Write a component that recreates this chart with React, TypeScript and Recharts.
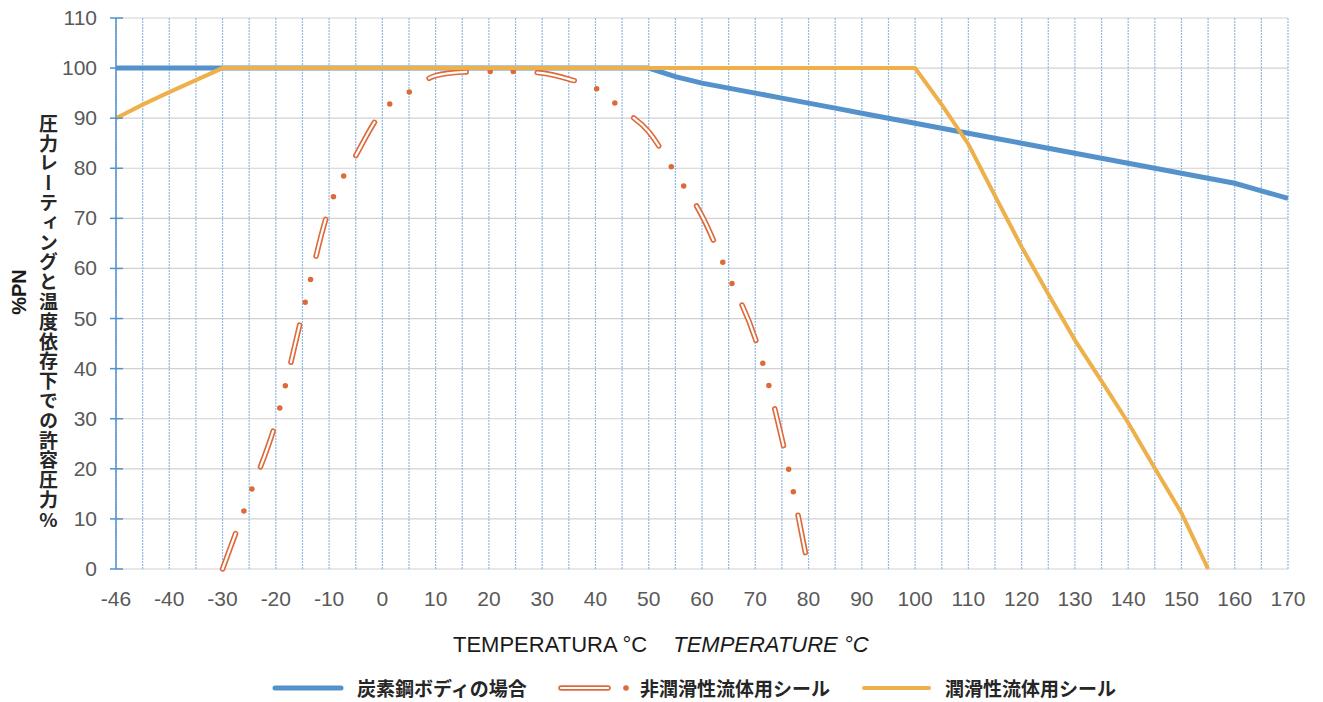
import React from "react";
import { LineChart, Line, XAxis, YAxis, CartesianGrid } from "recharts";

// temperature categories (°C), spaced evenly like the original sheet
const temps = [
  -46, -45, -40, -35, -30, -25, -20, -15, -10, -5, 0, 5, 10, 15, 20, 25, 30, 35, 40, 45, 50,
  55, 60, 65, 70, 75, 80, 85, 90, 95, 100, 105, 110, 115, 120, 125, 130, 135, 140, 145, 150,
  155, 160, 165, 170,
];

// %PN per temperature
const carbonSteel = [
  100, 100, 100, 100, 100, 100, 100, 100, 100, 100, 100, 100, 100, 100, 100, 100, 100, 100, 100, 100, 100,
  98.3, 97, 96, 95, 94, 93, 92, 91, 90, 89, 88, 87, 86, 85, 84, 83, 82, 81, 80, 79,
  78, 77, 75.5, 74,
];
const nonLubricated = [
  null, null, null, null, 0, 14.5, 29.3, 51, 72, 82.5, 91.4, 95.2, 98.5, 99.2, 99.3, 99.3, 99, 97.8, 96, 91.8, 87.3,
  79, 70.5, 58.5, 46, 26, 0, null, null, null, null, null, null, null, null, null, null, null, null, null, null,
  null, null, null, null,
];
const lubricated = [
  90, 92.7, 95.2, 97.6, 100, 100, 100, 100, 100, 100, 100, 100, 100, 100, 100, 100, 100, 100, 100, 100, 100,
  100, 100, 100, 100, 100, 100, 100, 100, 100, 100, 92.7, 84.8, 74.5, 64.3, 54.9, 45.7, 37.5, 29.2, 20.1, 11.2,
  0, null, null, null,
];

const yTicks = [0, 10, 20, 30, 40, 50, 60, 70, 80, 90, 100, 110];
const xLabelled = [-46, -40, -30, -20, -10, 0, 10, 20, 30, 40, 50, 60, 70, 80, 90, 100, 110, 120, 130, 140, 150, 160, 170];

const NAME_CARBON = "炭素鋼ボディの場合";
const NAME_DRY = "非潤滑性流体用シール";
const NAME_LUB = "潤滑性流体用シール";

const BLUE = "#5592CB";
const RUST = "#DD6A3B";
const GOLD = "#EDB04B";
const TICK_COLOR = "#595959";
const LATIN = "'Liberation Sans', Arial, sans-serif";
const CJK = "'Noto Sans CJK JP', sans-serif";

const data = temps.map((t, i) => ({
  t: String(t),
  carbon: carbonSteel[i],
  dry: nonLubricated[i],
  lub: lubricated[i],
}));

function XTick(props: any) {
  const { x, y, payload } = props;
  if (!xLabelled.includes(Number(payload.value))) return <g />;
  return (
    <text x={x} y={y} dy={37} textAnchor="middle" fill={TICK_COLOR} fontSize={21} fontFamily={LATIN}>
      {payload.value}
    </text>
  );
}

function YTick(props: any) {
  const { x, y, payload } = props;
  return (
    <g>
      <line x1={x - 6} x2={x + 7} y1={y} y2={y} stroke={BLUE} strokeWidth={1.5} />
      <text x={x - 19} y={y} dy={7} textAnchor="end" fill={TICK_COLOR} fontSize={21} fontFamily={LATIN}>
        {payload.value}
      </text>
    </g>
  );
}

const legendText: React.CSSProperties = {
  position: "absolute",
  top: 677,
  fontFamily: CJK,
  fontSize: 19,
  lineHeight: "22px",
  fontWeight: 700,
  color: "#262626",
  whiteSpace: "nowrap",
};

export default function App() {
  return (
    <div style={{ position: "absolute", left: 0, top: 0, width: 1323, height: 702, background: "#fff" }}>
      <LineChart width={1323} height={702} data={data} margin={{ top: 18, right: 35, left: 0, bottom: 93 }}>
        <CartesianGrid vertical={false} stroke="#d4d0d0" strokeWidth={1.2} />
        <CartesianGrid horizontal={false} stroke="#8fbae3" strokeWidth={1.2} strokeDasharray="2 1" />
        <XAxis
          dataKey="t"
          type="category"
          interval={0}
          height={40}
          axisLine={false}
          tickLine={false}
          tickSize={0}
          tickMargin={0}
          tick={(p: any) => <XTick {...p} />}
        />
        <YAxis
          type="number"
          domain={[0, 110]}
          ticks={yTicks}
          width={116}
          axisLine={{ stroke: BLUE, strokeWidth: 1.5 }}
          tickLine={false}
          tickSize={0}
          tickMargin={0}
          tick={(p: any) => <YTick {...p} />}
        />
        <Line
          name={NAME_CARBON}
          dataKey="carbon"
          type="linear"
          stroke={BLUE}
          strokeWidth={5}
          dot={false}
          activeDot={false}
          isAnimationActive={false}
        />
        <Line
          name={NAME_DRY}
          dataKey="dry"
          type="monotone"
          stroke={RUST}
          strokeWidth={5.5}
          strokeLinecap="round"
          strokeDasharray="38 24 0 23 0 24"
          dot={false}
          activeDot={false}
          isAnimationActive={false}
        />
        <Line
          name={NAME_DRY + " inner"}
          dataKey="dry"
          type="monotone"
          stroke="#ffffff"
          strokeWidth={2.2}
          strokeLinecap="round"
          strokeDasharray="38 71"
          dot={false}
          activeDot={false}
          legendType="none"
          isAnimationActive={false}
        />
        <Line
          name={NAME_LUB}
          dataKey="lub"
          type="linear"
          stroke={GOLD}
          strokeWidth={4}
          dot={false}
          activeDot={false}
          isAnimationActive={false}
        />
      </LineChart>

      {/* y axis titles */}
      <div
        style={{
          position: "absolute",
          left: 19,
          top: 292,
          transform: "translate(-50%, -50%) rotate(-90deg)",
          fontFamily: LATIN,
          fontWeight: 700,
          fontSize: 20,
          color: "#1a1a1a",
          whiteSpace: "nowrap",
        }}
      >
        %PN
      </div>
      <div
        style={{
          position: "absolute",
          left: 38,
          top: 114,
          writingMode: "vertical-rl",
          textOrientation: "upright",
          fontFamily: CJK,
          fontWeight: 700,
          fontSize: 19,
          lineHeight: "20px",
          letterSpacing: 0.8,
          color: "#262626",
        }}
      >
        圧力レーティングと温度依存下での許容圧力%
      </div>

      {/* x axis title */}
      <div
        style={{
          position: "absolute",
          left: 453,
          top: 634,
          fontFamily: LATIN,
          fontSize: 22,
          lineHeight: "22px",
          color: "#1a1a1a",
          whiteSpace: "nowrap",
        }}
      >
        TEMPERATURA °C
        <span style={{ fontStyle: "italic", marginLeft: 26 }}>TEMPERATURE °C</span>
      </div>

      {/* legend */}
      <svg style={{ position: "absolute", left: 0, top: 676 }} width={1323} height={24}>
        <line x1={275} x2={341} y1={12} y2={12} stroke={BLUE} strokeWidth={5} strokeLinecap="round" />
        <line x1={561} x2={608} y1={12} y2={12} stroke={RUST} strokeWidth={5.5} strokeLinecap="round" />
        <line x1={561} x2={608} y1={12} y2={12} stroke="#fff" strokeWidth={2.2} strokeLinecap="round" />
        <circle cx={626} cy={12} r={2.8} fill={RUST} />
        <line x1={864} x2={929} y1={12} y2={12} stroke={GOLD} strokeWidth={4} strokeLinecap="round" />
      </svg>
      <div style={{ ...legendText, left: 357 }}>{NAME_CARBON}</div>
      <div style={{ ...legendText, left: 640 }}>{NAME_DRY}</div>
      <div style={{ ...legendText, left: 945 }}>{NAME_LUB}</div>
    </div>
  );
}
